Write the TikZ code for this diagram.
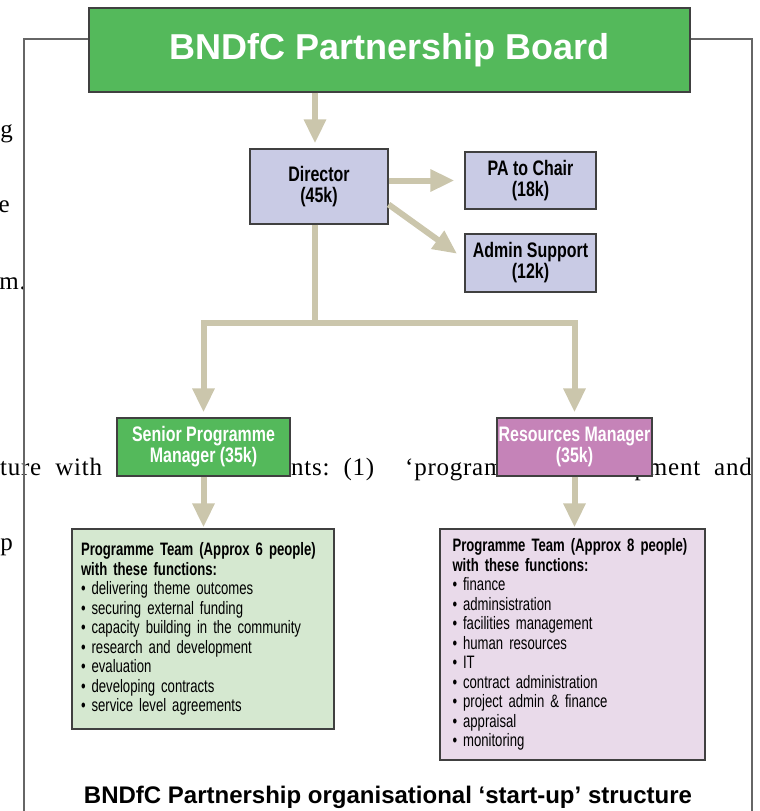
\documentclass[tikz,border=0pt]{standalone}
\usepackage{fontspec}
\setmainfont{Liberation Serif}
\setsansfont{Liberation Sans}
\newfontfamily\narrowfont[FakeStretch=0.76]{Liberation Sans}
\newfontfamily\teamfont[FakeStretch=0.73, WordSpace=0.7]{Liberation Sans}
\newfontfamily\pagefont[LetterSpace=3]{Liberation Serif}
\usepackage{tikz}
\usetikzlibrary{arrows.meta, positioning, calc}
\definecolor{boardcolor}{RGB}{84,185,91}
\definecolor{linkcolor}{RGB}{203,198,172}
\definecolor{postcolor}{RGB}{201,203,229}
\definecolor{rescolor}{RGB}{197,131,184}
\definecolor{progfill}{RGB}{213,232,208}
\definecolor{resfill}{RGB}{233,218,234}

\begin{document}
\begin{tikzpicture}[
    x=1pt, y=-1pt,
    frame/.style={draw=black!60, line width=1.2pt},
    board/.style={draw=black!75, line width=1.2pt, fill=boardcolor, text=white, minimum width=601pt, minimum height=84pt, font=\sffamily\bfseries\fontsize{36pt}{40pt}\selectfont},
    post/.style={draw=black!75, line width=1.2pt, fill=postcolor, align=center, inner sep=0pt, font=\narrowfont\bfseries\fontsize{21pt}{21pt}\selectfont},
    manager/.style={post, text=white},
    team/.style={draw=black!75, line width=1.2pt, align=left, inner sep=0pt, execute at begin node={\hyphenpenalty=10000\relax}, font=\teamfont\fontsize{18pt}{19.5pt}\selectfont},
    bodytext/.style={inner sep=0pt, font=\pagefont\fontsize{25pt}{28pt}\selectfont},
    link/.style={draw=linkcolor, line width=6pt},
    arrowlink/.style={link, -{Triangle[length=24pt, width=21pt]}, shorten >=5pt}
]
    \clip (0,0) rectangle (760,811);

    % Page text behind the chart
    \node[bodytext, anchor=base east] (t1) at (13,137) {g};
    \node[bodytext, anchor=base east] (t2) at (10,212) {e};
    \node[bodytext, anchor=base east] (t3) at (26,289) {m.};
    \node[bodytext, anchor=base west] (t4) at (0,475) {ture\ \ with};
    \node[bodytext, anchor=base west] (t5) at (291,475) {nts:\ \ (1)};
    \node[bodytext, anchor=base west] (t6) at (405,475) {‘program};
    \node[bodytext, anchor=base east] (t7) at (752,475) {pment\ \ and};
    \node[bodytext, anchor=base east] (t8) at (13,550) {p};

    % Frame
    \draw[frame] (24,39) rectangle (752,840);

    % Board
    \node[board] (board) at (389.5,50) {BNDfC Partnership Board};

    % Director and support
    \node[post, minimum width=138pt, minimum height=75pt] (director) at (319,186.5) {Director\\(45k)};
    \node[post, minimum width=131pt, minimum height=57pt] (pa) at (530.5,180.5) {PA to Chair\\(18k)};
    \node[post, minimum width=131pt, minimum height=58pt] (admin) at (530.5,263) {Admin Support\\(12k)};

    % Managers
    \node[manager, fill=boardcolor, minimum width=173pt, minimum height=58pt] (senior) at (203.5,447) {Senior Programme\\Manager (35k)};
    \node[manager, fill=rescolor, minimum width=155pt, minimum height=58pt] (resources) at (574.5,447) {Resources Manager\\(35k)};

    % Teams
    \node[team, fill=progfill, text width=244pt, minimum width=262pt, minimum height=200pt] (progteam) at (203,629) {\textbf{Programme Team (Approx 6 people)}\\
        \textbf{with these functions:}\\
        • delivering theme outcomes\\
        • securing external funding\\
        • capacity building in the community\\
        • research and development\\
        • evaluation\\
        • developing contracts\\
        • service level agreements};
    \node[team, fill=resfill, text width=240pt, minimum width=265pt, minimum height=231pt] (resteam) at (572.5,644.5) {\textbf{Programme Team (Approx 8 people)}\\
        \textbf{with these functions:}\\
        • finance\\
        • adminsistration\\
        • facilities management\\
        • human resources\\
        • IT\\
        • contract administration\\
        • project admin \& finance\\
        • appraisal\\
        • monitoring};

    % Connectors
    \draw[arrowlink] ([xshift=-4pt]director.north |- board.south) -- ([xshift=-4pt]director.north);
    \draw[arrowlink, shorten >=10pt] (director.east |- pa.west) -- (pa.west);
    \draw[arrowlink, shorten >=9pt] ([yshift=-18pt]director.east) -- ([yshift=4pt]admin.west);

    \coordinate (split) at (315,323);
    \draw[link] ([xshift=-4pt]director.south) -- (split);
    \draw[arrowlink] (split) -| (senior.north);
    \draw[arrowlink] (split) -| (resources.north);

    \draw[arrowlink, shorten >=1pt] (senior.south) -- (senior.south |- progteam.north);
    \draw[arrowlink, shorten >=1pt] (resources.south) -- (resources.south |- resteam.north);

    % Caption
    \node[font=\sffamily\bfseries\fontsize{24pt}{26pt}\selectfont] (caption) at (388,797) {BNDfC Partnership organisational ‘start-up’ structure};
\end{tikzpicture}
\end{document}
